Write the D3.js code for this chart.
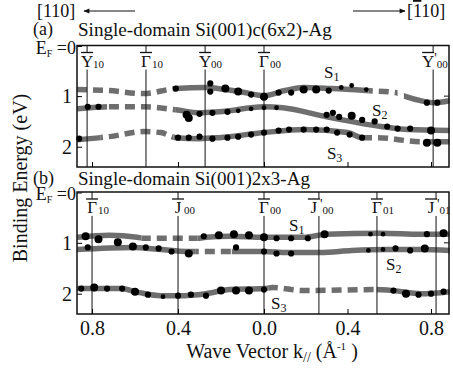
<!DOCTYPE html>
<html>
<head>
<meta charset="utf-8">
<script src="https://cdn.jsdelivr.net/npm/d3@7"></script>
<style>
  body { margin: 0; background: #fff; }
  text { font-family: "Liberation Serif", "Times New Roman", serif; fill: #111; }
</style>
</head>
<body>
<svg id="chart" width="453" height="374"></svg>
<script>
// ---- data (k in 1/Å, negative = [110] side; E = binding energy in eV) ----
const xTicks = [-0.8, -0.4, 0, 0.4, 0.8];
const yTicks = [1, 2];

// panel (a) c(6x2)
const a_symK = [-0.823, -0.549, -0.274, 0, 0.81];
const a_symName = ['Y', 'Γ', 'Y', 'Γ', 'Y'];
const a_symPrime = ['', '', '', '', "'"];
const a_symSub = ['10', '10', '00', '00', '00'];

const a_S1 = [[-0.87,0.87],[-0.72,0.89],[-0.56,0.95],[-0.41,0.85],[-0.27,0.83],[-0.18,0.87],[-0.09,0.93],[0,0.99],[0.10,0.89],[0.19,0.83],[0.32,0.85],[0.49,0.89],[0.63,0.93],[0.68,1.01],[0.75,1.09],[0.81,1.13],[0.89,1.09]];
const a_S1_solid = [[-0.41,0.50],[0.67,0.89]];
const a_S1_dash = [[-0.87,-0.41],[0.50,0.64]];
const a_S2 = [[-0.87,1.25],[-0.72,1.21],[-0.56,1.21],[-0.41,1.27],[-0.30,1.33],[-0.21,1.31],[0,1.21],[0.09,1.23],[0.30,1.41],[0.56,1.60],[0.69,1.66],[0.89,1.68]];
const a_S2_solid = [[-0.87,-0.73],[-0.41,0.89]];
const a_S2_dash = [[-0.73,-0.41]];
const a_S3 = [[-0.87,1.86],[-0.72,1.80],[-0.56,1.70],[-0.48,1.72],[-0.41,1.82],[-0.30,1.84],[-0.21,1.82],[0,1.72],[0.19,1.66],[0.40,1.72],[0.47,1.82],[0.54,1.82],[0.75,1.90],[0.89,1.90]];
const a_S3_solid = [[-0.87,-0.76],[-0.42,0.48],[0.78,0.89]];
const a_S3_dash = [[-0.76,-0.42],[0.48,0.78]];

// measured points: [k, E, weight]
const a_S1_dots = [[-0.41,0.85,2],[-0.25,0.75,2],[-0.25,0.91,2],[-0.18,0.85,3],[-0.12,0.91,3],[-0.06,0.97,2],[0,1.01,3],[0.07,0.93,2],[0.13,0.93,2],[0.19,0.87,3],[0.25,0.87,3],[0.31,0.89,2],[0.37,0.83,1],[0.42,0.79,1],[0.49,0.87,1],[0.78,1.13,2],[0.83,1.13,2]];
const a_S2_dots = [[-0.82,1.21,2],[-0.77,1.21,2],[-0.36,1.37,3],[-0.35,1.43,3],[-0.30,1.35,2],[-0.24,1.33,2],[-0.17,1.31,2],[-0.12,1.29,1],[-0.06,1.25,1],[0,1.23,1],[0.06,1.23,1],[0.30,1.37,2],[0.33,1.33,2],[0.36,1.41,2],[0.42,1.39,3],[0.47,1.47,2],[0.53,1.50,2],[0.59,1.60,2],[0.64,1.64,2],[0.70,1.64,2],[0.80,1.68,3]];
const a_S3_dots = [[-0.86,1.84,2],[-0.40,1.82,2],[-0.35,1.82,2],[-0.30,1.80,2],[-0.24,1.84,2],[-0.17,1.82,2],[-0.12,1.80,2],[-0.06,1.76,2],[0,1.72,2],[0.07,1.68,2],[0.12,1.66,2],[0.19,1.66,2],[0.25,1.66,2],[0.30,1.66,2],[0.35,1.72,2],[0.41,1.76,2],[0.47,1.82,2],[0.78,1.92,3],[0.83,1.92,3]];
const a_labels = [['1',0.316,0.53],['2',0.546,1.27],['3',0.33,2.12]];

// panel (b) 2x3
const b_symK = [-0.8, -0.4, 0, 0.263, 0.541, 0.824];
const b_symName = ['Γ', 'J', 'Γ', 'J', 'Γ', 'J'];
const b_symPrime = ['', '', '', "'", '', "'"];
const b_symSub = ['10', '00', '00', '00', '01', '01'];

const b_S1 = [[-0.87,0.89],[-0.72,0.85],[-0.59,0.89],[-0.56,0.91],[-0.31,0.91],[-0.27,0.89],[-0.16,0.87],[0,0.89],[0.19,0.89],[0.30,0.83],[0.56,0.81],[0.75,0.83],[0.89,0.83]];
const b_S1_solid = [[-0.87,-0.57],[-0.31,0.89]];
const b_S1_dash = [[-0.57,-0.31]];
const b_S2 = [[-0.87,1.13],[-0.61,1.09],[-0.48,1.13],[-0.36,1.17],[-0.30,1.17],[-0.16,1.17],[0,1.17],[0.11,1.19],[0.27,1.19],[0.42,1.15],[0.59,1.13],[0.75,1.13],[0.89,1.15]];
const b_S2_solid = [[-0.87,-0.32],[-0.15,0.89]];
const b_S2_dash = [[-0.32,-0.15]];
const b_S3 = [[-0.87,1.90],[-0.67,1.90],[-0.58,1.98],[-0.48,2.04],[-0.40,2.04],[-0.27,2.0],[-0.16,1.92],[0,1.90],[0.04,1.88],[0.19,1.94],[0.52,1.92],[0.62,1.94],[0.75,2.0],[0.89,1.96]];
const b_S3_solid = [[-0.87,0.02],[0.54,0.89]];
const b_S3_dash = [[0.02,0.54]];

const b_S1_dots = [[-0.83,0.87,3],[-0.77,0.93,3],[-0.68,0.99,3],[-0.28,0.87,2],[-0.21,0.85,3],[-0.14,0.83,3],[-0.07,0.85,3],[0,0.89,3],[0.06,0.91,2],[0.13,0.91,2],[0.21,0.91,2],[0.29,0.83,3],[0.51,0.83,1],[0.57,0.83,1],[0.78,0.83,2],[0.86,0.81,3]];
const b_S2_dots = [[-0.82,1.09,2],[-0.61,1.07,3],[-0.55,1.09,2],[-0.49,1.11,2],[-0.43,1.17,2],[-0.35,1.21,3],[-0.13,1.09,2],[0,1.17,2],[0.06,1.21,2],[0.13,1.21,2],[0.50,1.15,1],[0.57,1.13,1],[0.63,1.11,2],[0.70,1.15,2],[0.77,1.11,3]];
const b_S3_dots = [[-0.85,1.90,2],[-0.79,1.88,3],[-0.73,1.90,2],[-0.66,1.90,2],[-0.60,1.96,3],[-0.54,2.02,2],[-0.47,2.06,1],[-0.40,2.04,2],[-0.34,2.02,2],[-0.27,2.04,2],[-0.20,1.94,3],[-0.13,1.94,3],[-0.07,1.94,3],[0,1.92,2],[0.62,1.94,2],[0.68,2.0,3],[0.74,2.02,2],[0.80,2.0,2],[0.86,1.96,2]];
const b_labels = [['1',0.149,0.65],['2',0.613,1.41],['3',0.062,2.18]];

// ---- drawing ----
const svg = d3.select('#chart');
const left = 77, right = 449;
const x = d3.scaleLinear().domain([-0.87, 0, 0.886]).range([left, 264, right]);
const r = d3.scaleOrdinal().domain([1, 2, 3]).range([2.4, 3.1, 4]);
const bandColor = '#6e6e6e';

const defs = svg.append('defs');
defs.append('marker').attr('id', 'arr').attr('viewBox', '0 0 10 10')
  .attr('refX', 9).attr('refY', 5).attr('markerWidth', 8).attr('markerHeight', 6)
  .attr('orient', 'auto-start-reverse').attr('markerUnits', 'userSpaceOnUse')
  .append('path').attr('d', 'M0,1L10,5L0,9z').attr('fill', '#111');

let clipId = 0;
function clipFor(ranges, top, bottom) {
  const id = 'clip' + (clipId++);
  const cp = defs.append('clipPath').attr('id', id);
  ranges.forEach(rg => {
    cp.append('rect').attr('x', x(rg[0])).attr('y', top)
      .attr('width', x(rg[1]) - x(rg[0])).attr('height', bottom - top);
  });
  return 'url(#' + id + ')';
}

// stretch a text horizontally so it spans a given width (scanned figure is wider than Times)
function fitWidth(sel, x0, y0, width) {
  const w = sel.node().getComputedTextLength();
  sel.attr('x', 0).attr('y', 0)
    .attr('transform', `translate(${x0},${y0}) scale(${width / w},1)`);
}

function panel(cfg) {
  const top = cfg.top, bottom = cfg.bottom;
  const y = d3.scaleLinear().domain([0, 2.4]).range([top, bottom]);
  const g = svg.append('g');

  // band curves
  const line = d3.line().x(d => x(d[0])).y(d => y(d[1])).curve(d3.curveMonotoneX);
  cfg.bands.forEach(b => {
    g.append('path').attr('d', line(b.pts)).attr('fill', 'none')
      .attr('stroke', bandColor).attr('stroke-width', 5.5)
      .attr('clip-path', clipFor(b.solid, top, bottom));
    g.append('path').attr('d', line(b.pts)).attr('fill', 'none')
      .attr('stroke', bandColor).attr('stroke-width', 5.5)
      .attr('stroke-dasharray', '10,6')
      .attr('clip-path', clipFor(b.dash, top, bottom));
  });

  // symmetry point lines and labels
  cfg.symK.forEach((k, i) => {
    const px = x(k);
    const lx = px - (cfg.symPrime[i] ? 5 : 0);
    g.append('line').attr('x1', px).attr('x2', px).attr('y1', top).attr('y2', top + 7)
      .attr('stroke', '#111').attr('stroke-width', 1);
    g.append('line').attr('x1', lx - 6).attr('x2', lx + 6).attr('y1', top + 7).attr('y2', top + 7)
      .attr('stroke', '#111').attr('stroke-width', 1.3);
    g.append('line').attr('x1', px).attr('x2', px).attr('y1', top + 24).attr('y2', bottom)
      .attr('stroke', '#111').attr('stroke-width', 1);
    g.append('text').attr('x', lx).attr('y', top + 21).attr('text-anchor', 'middle')
      .style('font-size', '17px').text(cfg.symName[i]);
    const t = g.append('text').attr('x', lx + 6).attr('y', top + 22).style('font-size', '11px');
    if (cfg.symPrime[i]) t.append('tspan').attr('dy', -5).style('font-size', '14px').text(cfg.symPrime[i]);
    t.append('tspan').attr('dy', cfg.symPrime[i] ? 5 : 0).text(cfg.symSub[i]);
  });

  // measured points
  cfg.dots.forEach(ds => {
    g.selectAll(null).data(ds).enter().append('circle')
      .attr('cx', d => x(d[0])).attr('cy', d => y(d[1])).attr('r', d => r(d[2]))
      .attr('fill', '#000');
  });

  // band names
  cfg.labels.forEach(l => {
    const t = g.append('text').attr('x', x(l[1]) - 6).attr('y', y(l[2]) + 6).style('font-size', '17px');
    t.append('tspan').text('S');
    t.append('tspan').attr('dy', 3).style('font-size', '12px').text(l[0]);
  });

  // frame
  g.append('rect').attr('x', left).attr('y', top).attr('width', right - left).attr('height', bottom - top)
    .attr('fill', 'none').attr('stroke', '#111').attr('stroke-width', 1.5);

  // left ticks
  const ya = g.append('g').attr('transform', `translate(${left},0)`)
    .call(d3.axisLeft(y).tickValues(yTicks).tickSize(-5).tickPadding(5).tickFormat(d3.format('d')));
  ya.select('.domain').remove();
  ya.selectAll('text').style('font-size', '20px').attr('fill', '#111')
    .style('font-family', '"Liberation Serif", serif');
  g.append('line').attr('x1', left).attr('x2', left + 5).attr('y1', top + 1).attr('y2', top + 1).attr('stroke', '#111');
  g.append('line').attr('x1', right).attr('x2', right - 5).attr('y1', y(1)).attr('y2', y(1)).attr('stroke', '#111');
  const ef = g.append('text').attr('x', left - 1).attr('y', top + 8).attr('text-anchor', 'end').style('font-size', '18px');
  ef.append('tspan').text('E');
  ef.append('tspan').attr('dy', 3).style('font-size', '10px').text('F');
  ef.append('tspan').attr('dy', -3).text(' =0');

  // bottom ticks
  const xa = g.append('g').attr('transform', `translate(0,${bottom})`)
    .call(d3.axisBottom(x).tickValues(xTicks).tickSize(-5).tickPadding(7)
      .tickFormat(d => cfg.showX ? Math.abs(d).toFixed(1) : ''));
  xa.select('.domain').remove();
  xa.selectAll('text').style('font-size', '20px').attr('fill', '#111')
    .style('font-family', '"Liberation Serif", serif');

  // title
  g.append('text').attr('x', 33).attr('y', top - cfg.titleGap - 1).style('font-size', '18px').text(cfg.tag);
  const tt = g.append('text').style('font-size', '18px').text(cfg.title);
  fitWidth(tt, 78, top - cfg.titleGap, cfg.titleWidth);
}

panel({
  top: 45.5, bottom: 167, tag: '(a)', title: 'Single-domain Si(001)c(6x2)-Ag', titleWidth: 254,
  titleGap: 10, showX: false,
  symK: a_symK, symName: a_symName, symPrime: a_symPrime, symSub: a_symSub,
  bands: [
    {pts: a_S1, solid: a_S1_solid, dash: a_S1_dash},
    {pts: a_S2, solid: a_S2_solid, dash: a_S2_dash},
    {pts: a_S3, solid: a_S3_solid, dash: a_S3_dash}
  ],
  dots: [a_S1_dots, a_S2_dots, a_S3_dots], labels: a_labels
});
panel({
  top: 192, bottom: 314, tag: '(b)', title: 'Single-domain Si(001)2x3-Ag', titleWidth: 232,
  titleGap: 7, showX: true,
  symK: b_symK, symName: b_symName, symPrime: b_symPrime, symSub: b_symSub,
  bands: [
    {pts: b_S1, solid: b_S1_solid, dash: b_S1_dash},
    {pts: b_S2, solid: b_S2_solid, dash: b_S2_dash},
    {pts: b_S3, solid: b_S3_solid, dash: b_S3_dash}
  ],
  dots: [b_S1_dots, b_S2_dots, b_S3_dots], labels: b_labels
});

// direction arrows
svg.append('text').attr('x', 37).attr('y', 17).style('font-size', '18px').text('[110]');
svg.append('line').attr('x1', 135).attr('x2', 84).attr('y1', 11).attr('y2', 11)
  .attr('stroke', '#111').attr('stroke-width', 1.2).attr('marker-end', 'url(#arr)');
svg.append('line').attr('x1', 353).attr('x2', 405).attr('y1', 11).attr('y2', 11)
  .attr('stroke', '#111').attr('stroke-width', 1.2).attr('marker-end', 'url(#arr)');
const rl = svg.append('text').attr('x', 407).attr('y', 17).style('font-size', '18px');
rl.append('tspan').text('[');
rl.append('tspan').style('text-decoration', 'overline').text('1');
rl.append('tspan').text('10]');

// axis titles
svg.append('text').attr('transform', 'translate(27,178) rotate(-90)').attr('text-anchor', 'middle')
  .style('font-size', '20px').text('Binding Energy (eV)');
const xt = svg.append('text').attr('x', 272).attr('y', 358).attr('text-anchor', 'middle').style('font-size', '20px');
xt.append('tspan').text('Wave Vector k');
xt.append('tspan').attr('dy', 4).style('font-size', '14px').text('//');
xt.append('tspan').attr('dy', -4).text('  (Å');
xt.append('tspan').attr('dy', -8).style('font-size', '11px').text('-1');
xt.append('tspan').attr('dy', 8).text(' )');
</script>
</body>
</html>
